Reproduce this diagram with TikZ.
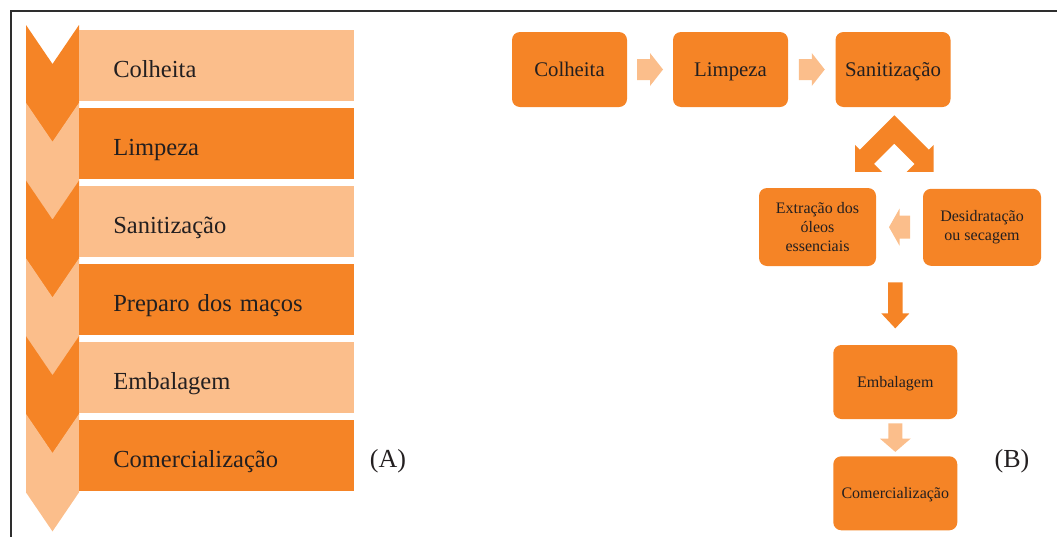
\documentclass[tikz,border=0pt]{standalone}
\usepackage{fontspec}
\setmainfont{Liberation Serif}
\usetikzlibrary{calc}

\definecolor{darkor}{HTML}{F58426}
\definecolor{lightor}{HTML}{FBBE8B}
\definecolor{ink}{HTML}{231F20}
\definecolor{framegray}{HTML}{2E2E2E}

\tikzset{
  % rightward block arrow centred on the pic origin:
  % {length}{shaft width}{head width}{head length}{colour}
  pics/blockarrow/.style n args={5}{code={
    \fill[#5] ({-#1/2},{-#2/2}) -- ({#1/2-#4},{-#2/2}) -- ({#1/2-#4},{-#3/2})
      -- ({#1/2},0) -- ({#1/2-#4},{#3/2}) -- ({#1/2-#4},{#2/2})
      -- ({-#1/2},{#2/2}) -- cycle;
  }},
  rowbox/.style={anchor=west, minimum width=206.25pt, minimum height=53.25pt,
    text width=155.25pt, inner xsep=25.5pt, inner ysep=0pt, align=left,
    font=\fontsize{18.4}{22}\selectfont, text=ink, text height=17.5pt, text depth=0pt},
  stepbox/.style={rounded corners=6pt, fill=darkor, text=ink, align=center, inner sep=2pt},
  bigstep/.style={minimum width=86.25pt, minimum height=56.25pt,
    font=\fontsize{15.6}{18}\selectfont, text height=11pt, text depth=0pt},
  smallstep/.style={font=\fontsize{12}{14}\selectfont},
  tag/.style={font=\fontsize{19.5}{22}\selectfont, text=ink, inner sep=0pt},
}

\begin{document}
\begin{tikzpicture}[x=0.75pt, y=-0.75pt]
\useasboundingbox (0,0) rectangle (1057,536);

% frame
\draw[line width=1.9pt, framegray] (11,540) -- (11,11) -- (1060,11);

% ---------- (A) chevron column ----------
\foreach \i in {0,...,5}{
  \pgfmathsetmacro\yt{25+77.8*\i}
  \ifodd\i \def\cc{lightor}\else\def\cc{darkor}\fi
  \fill[\cc] (26,\yt) -- (52.5,\yt+39) -- (79,\yt) -- (79,\yt+78.4)
    -- (52.5,\yt+117.4) -- (26,\yt+78.4) -- cycle;
}

\node[rowbox, fill=lightor] (r1) at (79,65.5)  {Colheita};
\node[rowbox, fill=darkor]  (r2) at (79,143.5) {Limpeza};
\node[rowbox, fill=lightor] (r3) at (79,221.5) {Sanitização};
\node[rowbox, fill=darkor]  (r4) at (79,299.5) {Preparo dos maços};
\node[rowbox, fill=lightor] (r5) at (79,377.5) {Embalagem};
\node[rowbox, fill=darkor]  (r6) at (79,455.5) {Comercialização};

\node[tag] (labA) at (388,461.5) {(A)};

% ---------- (B) flow chart ----------
\node[stepbox, bigstep] (bcol) at (569.5,69.5) {Colheita};
\node[stepbox, bigstep] (blim) at (730.5,69.5) {Limpeza};
\node[stepbox, bigstep] (bsan) at (893,69.5) {Sanitização};

\node[stepbox, smallstep, minimum width=87.75pt, minimum height=58.5pt]
  (bext) at (817.5,227) {Extração dos\\óleos\\essenciais};
\node[stepbox, smallstep, minimum width=88.5pt, minimum height=57.75pt]
  (bdes) at (982,227.3) {Desidratação\\ou secagem};
\node[stepbox, smallstep, minimum width=93pt, minimum height=55.5pt,
  text height=8.6pt, text depth=0pt] (bemb) at (895.3,382) {Embalagem};
\node[stepbox, smallstep, minimum width=93pt, minimum height=55.5pt,
  text height=8pt, text depth=0pt] (bcom) at (895.3,493.3) {Comercialização};

\node[tag] (labB) at (1012,461.7) {(B)};

% block arrows between the steps
\pic at ($(bcol.east)!0.5!(blim.west)$) {blockarrow={26}{21}{33}{13}{lightor}};
\pic at ($(blim.east)!0.5!(bsan.west)$) {blockarrow={26}{21}{33}{13}{lightor}};
\pic[rotate=180] at ($(bdes.west)!0.5!(bext.east)$) {blockarrow={21}{23}{37}{10.5}{lightor}};
\pic[rotate=-90] at ($(bemb.north)!0.5!(bemb.north |- bdes.south)$) {blockarrow={46}{14.5}{28}{15}{darkor}};
\pic[rotate=-90] at ($(bemb.south)!0.5!(bcom.north)$) {blockarrow={28.5}{14}{31}{13.4}{lightor}};

% forked arrow below the sanitising step
\coordinate (fk) at ($(bsan.south)+(1.3,8)$);
\fill[darkor, shift={(fk)}] (0,0) -- (-34.5,34.5) -- (-39.3,29.7) -- (-39.3,56.7)
  -- (-12.3,56.7) -- (-20.35,48.65) -- (0,28.3) -- (20.35,48.65) -- (12.3,56.7)
  -- (39.3,56.7) -- (39.3,29.7) -- (34.5,34.5) -- cycle;
\end{tikzpicture}
\end{document}
